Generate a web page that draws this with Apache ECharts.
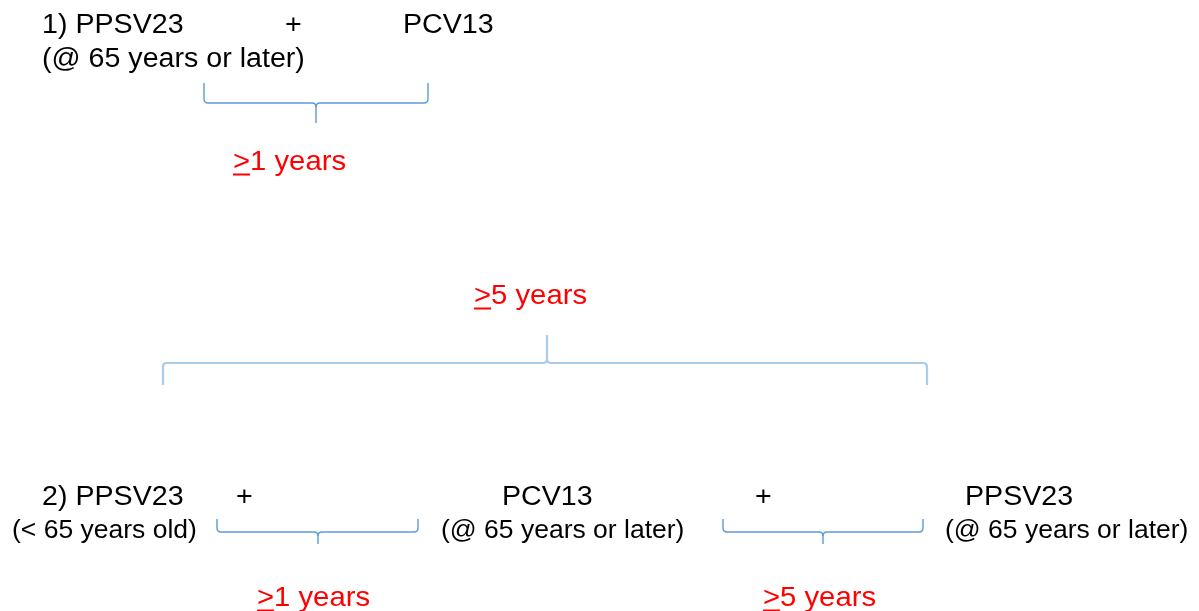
<!DOCTYPE html>
<html>
<head>
<meta charset="utf-8">
<script src="https://cdn.jsdelivr.net/npm/echarts@6/dist/echarts.min.js"></script>
<style>
  html, body { margin: 0; padding: 0; background: #fff; }
  #chart { width: 1199px; height: 611px; }
</style>
</head>
<body>
<div id="chart"></div>
<script>
// text labels (left edge x, middle y in the diagram's own coordinate space)
const labelText = [
  '1) PPSV23', '+', 'PCV13', '(@ 65 years or later)',
  '>1 years', '>5 years',
  '2) PPSV23', '+', 'PCV13', '+', 'PPSV23',
  '(< 65 years old)', '(@ 65 years or later)', '(@ 65 years or later)',
  '>1 years', '>5 years'
]
const labelX = [42, 285, 403, 42, 233, 474, 42, 236, 502, 755, 965, 12, 441, 945, 257, 763]
const labelY = [26, 26, 26, 60, 162, 296, 498, 498, 498, 498, 498, 531, 531, 531, 598, 598]
// main = vaccine line, sub = age note, gap = red interval
const labelKind = [
  'main', 'main', 'main', 'main',
  'gap', 'gap',
  'main', 'main', 'main', 'main', 'main',
  'sub', 'sub', 'sub',
  'gap', 'gap'
]

// curly braces
const braceLeft = [204, 163, 217, 723]
const braceRight = [428, 927, 418, 923]
const braceTipX = [316, 547, 318, 823]
const braceEndY = [83, 385, 519, 519]
const braceLineY = [103, 363, 532, 532]
const braceTipY = [123, 335, 544, 544]
const braceKind = ['small', 'big', 'small', 'small']

const kindStyle = {
  main: { size: 27, scaleX: 1.06, color: '#000000' },
  sub: { size: 25, scaleX: 1.06, color: '#000000' },
  gap: { size: 28, scaleX: 1.045, color: '#ff0000' }
}
const braceStyle = {
  small: { color: '#5b9bd5', width: 1.4 },
  big: { color: '#a9cbec', width: 2.2 }
}

const chart = echarts.init(document.getElementById('chart'))

const labelData = labelText.map((t, i) => [labelX[i], labelY[i], t, labelKind[i]])
const braceData = braceLeft.map((l, i) => [l, braceRight[i], braceTipX[i], braceEndY[i], braceLineY[i], braceTipY[i], braceKind[i]])

// 文字
const renderLabel = (params, api) => {
  const d = labelData[params.dataIndex]
  const st = kindStyle[d[3]]
  const p = api.coord([d[0], d[1]])
  const children = [{
    type: 'text',
    x: p[0],
    y: p[1],
    scaleX: st.scaleX,
    style: {
      text: d[2],
      fill: st.color,
      font: st.size + 'px "Liberation Sans", Arial, sans-serif',
      align: 'left',
      verticalAlign: 'middle'
    }
  }]
  // underline under ">" so it reads as ≥
  if (d[3] === 'gap') {
    const w = 0.584 * st.size * st.scaleX
    children.push({
      type: 'rect',
      shape: { x: p[0], y: p[1] + 11.5, width: w, height: 2 },
      style: { fill: st.color }
    })
  }
  return { type: 'group', children }
}

// 大括号
const renderBrace = (params, api) => {
  const d = braceData[params.dataIndex]
  const st = braceStyle[d[6]]
  const L = api.coord([d[0], d[3]])
  const R = api.coord([d[1], d[3]])
  const line = api.coord([d[2], d[4]])
  const tip = api.coord([d[2], d[5]])
  const y1 = line[1]
  const xT = line[0]
  const dirEnd = L[1] < y1 ? 1 : -1
  const dirTip = tip[1] > y1 ? 1 : -1
  const s = 4
  const ls = { stroke: st.color, lineWidth: st.width, fill: null }
  const seg = (x1, yA, x2, yB) => ({ type: 'line', shape: { x1, y1: yA, x2, y2: yB }, style: ls })
  const curve = (x1, yA, cx, cy, x2, yB) => ({
    type: 'bezierCurve',
    shape: { x1, y1: yA, cpx1: cx, cpy1: cy, x2, y2: yB },
    style: ls
  })
  return {
    type: 'group',
    children: [
      seg(L[0], L[1], L[0], y1 - dirEnd * s),
      curve(L[0], y1 - dirEnd * s, L[0], y1, L[0] + s, y1),
      seg(L[0] + s, y1, xT - s, y1),
      curve(xT - s, y1, xT, y1, xT, y1 + dirTip * s),
      curve(xT + s, y1, xT, y1, xT, y1 + dirTip * s),
      seg(xT, y1 + dirTip * s, xT, tip[1]),
      seg(xT + s, y1, R[0] - s, y1),
      curve(R[0] - s, y1, R[0], y1, R[0], y1 - dirEnd * s),
      seg(R[0], y1 - dirEnd * s, R[0], R[1])
    ]
  }
}

const option = {
  animation: false,
  backgroundColor: '#ffffff',
  grid: { left: 0, right: 0, top: 0, bottom: 0 },
  xAxis: { type: 'value', min: 0, max: 1199, show: false },
  yAxis: { type: 'value', min: 0, max: 611, inverse: true, show: false },
  series: [
    {
      type: 'custom',
      name: 'braces',
      renderItem: renderBrace,
      data: braceData,
      encode: { x: [0, 1, 2], y: [3, 4, 5] },
      silent: true
    },
    {
      type: 'custom',
      name: 'labels',
      renderItem: renderLabel,
      data: labelData,
      encode: { x: 0, y: 1 },
      silent: true
    }
  ]
}

chart.setOption(option)
</script>
</body>
</html>
